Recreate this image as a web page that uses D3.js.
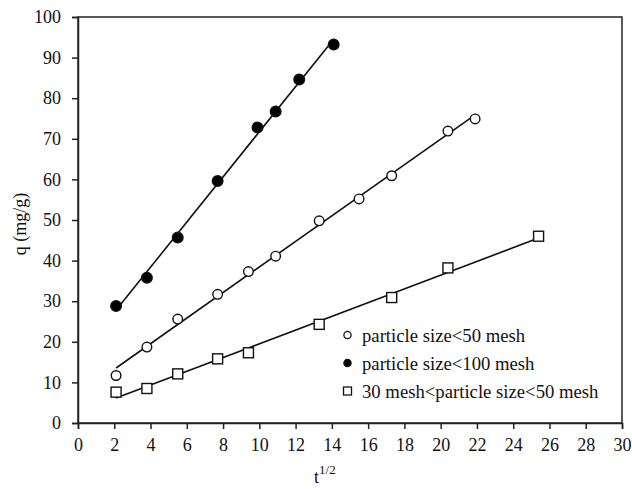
<!DOCTYPE html>
<html><head><meta charset="utf-8">
<script src="https://cdn.jsdelivr.net/npm/d3@7"></script>
<style>body{margin:0;background:#fff}svg{display:block}svg text{font-family:"Liberation Serif","Times New Roman",serif !important;fill:#111}</style>
</head><body><svg id="c" width="632" height="489"></svg>
<script>
const xTicks = [0,2,4,6,8,10,12,14,16,18,20,22,24,26,28,30];
const yTicks = [0,10,20,30,40,50,60,70,80,90,100];
const seriesNames = ["particle size<50 mesh","particle size<100 mesh","30 mesh<particle size<50 mesh"];
const x50 = [2.1,3.8,5.5,7.7,9.4,10.9,13.3,15.5,17.3,20.4,21.9];
const y50 = [11.7,18.7,25.6,31.7,37.3,41.1,49.8,55.2,60.9,71.9,74.9];
const x100 = [2.1,3.8,5.5,7.7,9.9,10.9,12.2,14.1];
const y100 = [28.8,35.8,45.7,59.6,72.8,76.7,84.6,93.2];
const x3050 = [2.1,3.8,5.5,7.7,9.4,13.3,17.3,20.4,25.4];
const y3050 = [7.6,8.5,12.1,15.8,17.3,24.3,30.9,38.2,46.0];

const FONT='"Liberation Serif","Times New Roman",serif';
const svg = d3.select("#c");
const L=78,R=622,T=17,B=423;
const x = d3.scaleLinear().domain([0,30]).range([L,R]);
const y = d3.scaleLinear().domain([0,100]).range([B,T]);

svg.append("rect").attr("x",L).attr("y",T).attr("width",R-L).attr("height",B-T)
  .attr("fill","none").attr("stroke","#222").attr("stroke-width",1.5);

const xa = svg.append("g").attr("transform",`translate(0,${B})`)
  .call(d3.axisBottom(x).tickValues(xTicks).tickSize(6).tickPadding(9).tickFormat(d3.format("d")));
const ya = svg.append("g").attr("transform",`translate(${L},0)`)
  .call(d3.axisLeft(y).tickValues(yTicks).tickSize(6).tickPadding(11).tickFormat(d3.format("d")));
[xa,ya].forEach(a=>{
  a.attr("font-family",FONT).attr("font-size",18);
  a.select(".domain").attr("stroke","#222").attr("stroke-width",1.5);
  a.selectAll(".tick line").attr("stroke","#222").attr("stroke-width",1.5);
  a.selectAll(".tick text").attr("font-size",18).attr("font-family",FONT).style("font-family",FONT).attr("fill","#111");
});

function fit(xs,ys){
  const mx=d3.mean(xs), my=d3.mean(ys);
  const b=d3.sum(xs,(v,i)=>(v-mx)*(ys[i]-my))/d3.sum(xs,v=>(v-mx)*(v-mx));
  return v=>my+b*(v-mx);
}
const series=[
  {xs:x50,ys:y50,sym:"open"},
  {xs:x100,ys:y100,sym:"filled"},
  {xs:x3050,ys:y3050,sym:"square"}
];
const line=d3.line().x(d=>x(d[0])).y(d=>y(d[1]));
series.forEach(s=>{
  const f=fit(s.xs,s.ys);
  const x0=d3.min(s.xs), x1=d3.max(s.xs);
  svg.append("path").attr("d",line([[x0,f(x0)],[x1,f(x1)]]))
    .attr("stroke","#111").attr("stroke-width",1.6).attr("fill","none");
});
function drawSym(g,sym,cx,cy){
  if(sym==="square"){
    g.append("rect").attr("x",cx-5).attr("y",cy-5).attr("width",10).attr("height",10)
      .attr("fill","#fff").attr("stroke","#111").attr("stroke-width",1.4);
  } else {
    g.append("circle").attr("cx",cx).attr("cy",cy).attr("r",sym==="filled"?5.3:4.8)
      .attr("fill",sym==="filled"?"#000":"#fff").attr("stroke","#111").attr("stroke-width",1.4);
  }
}
series.forEach(s=>{
  const g=svg.append("g");
  s.xs.forEach((v,i)=>drawSym(g,s.sym,x(v),y(s.ys[i])));
});

// legend
const lg=svg.append("g");
seriesNames.forEach((n,i)=>{
  const cy=335+i*28;
  if(series[i].sym==="square"){
    lg.append("rect").attr("x",343.5).attr("y",cy-4).attr("width",8).attr("height",8)
      .attr("fill","#fff").attr("stroke","#111").attr("stroke-width",1.3);
  } else {
    lg.append("circle").attr("cx",347.5).attr("cy",cy).attr("r",3.6)
      .attr("fill",series[i].sym==="filled"?"#000":"#fff").attr("stroke","#111").attr("stroke-width",1.3);
  }
  lg.append("text").attr("x",362).attr("y",cy).attr("dy","0.35em").attr("font-size",18.7)
    .attr("font-family",FONT).text(n);
});

// axis titles
svg.append("text").attr("transform","translate(26,224) rotate(-90)").attr("text-anchor","middle")
  .attr("font-size",18).attr("font-family",FONT).text("q (mg/g)");
const xt=svg.append("text").attr("x",314).attr("y",483).attr("font-size",18).attr("font-family",FONT);
xt.append("tspan").text("t");
xt.append("tspan").attr("dy",-9).attr("font-size",13).text("1/2");
</script></body></html>
